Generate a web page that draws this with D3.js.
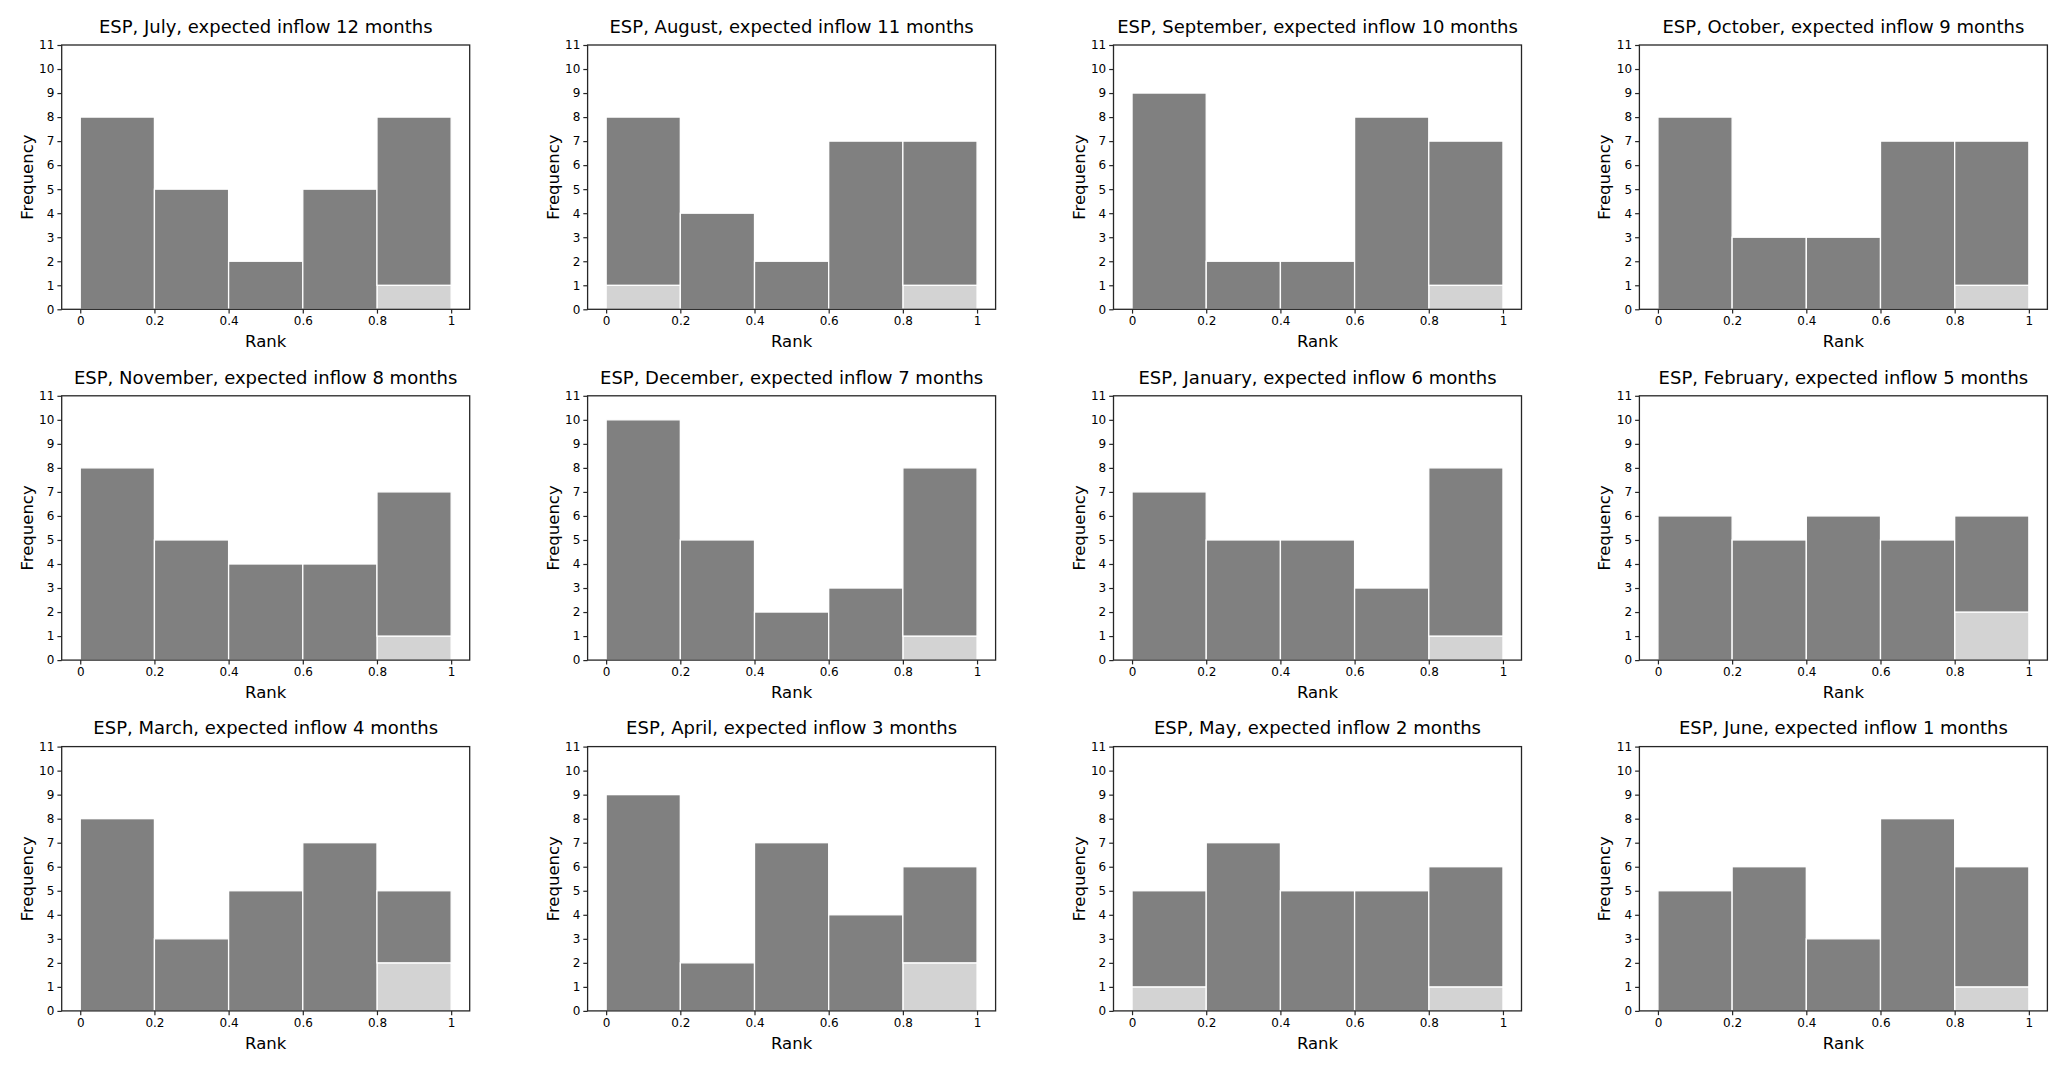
<!DOCTYPE html>
<html>
<head>
<meta charset="utf-8">
<script src="https://cdn.jsdelivr.net/npm/d3@7"></script>
<style>
    body { margin: 0; background: #fff; }
    text { font-family: "DejaVu Sans", sans-serif; fill: #000; }
</style>
</head>
<body>
<div id="chart"></div>
<script>
// Panel data, one entry per panel
const country = "ESP";
const months = ["July", "August", "September", "October", "November", "December",
    "January", "February", "March", "April", "May", "June"];
const inflowMonths = [12, 11, 10, 9, 8, 7, 6, 5, 4, 3, 2, 1];

// Histogram bins on rank
const binEdges = [0, 0.2, 0.4, 0.6, 0.8, 1];

// Stacked counts: light segment (bottom) and dark segment (on top)
const lightCounts = [
    [0, 0, 0, 0, 1], [1, 0, 0, 0, 1], [0, 0, 0, 0, 1], [0, 0, 0, 0, 1],
    [0, 0, 0, 0, 1], [0, 0, 0, 0, 1], [0, 0, 0, 0, 1], [0, 0, 0, 0, 2],
    [0, 0, 0, 0, 2], [0, 0, 0, 0, 2], [1, 0, 0, 0, 1], [0, 0, 0, 0, 1]
];
const darkCounts = [
    [8, 5, 2, 5, 7], [7, 4, 2, 7, 6], [9, 2, 2, 8, 6], [8, 3, 3, 7, 6],
    [8, 5, 4, 4, 6], [10, 5, 2, 3, 7], [7, 5, 5, 3, 7], [6, 5, 6, 5, 4],
    [8, 3, 5, 7, 3], [9, 2, 7, 4, 4], [4, 7, 5, 5, 5], [5, 6, 3, 8, 5]
];

const xTicks = [0, 0.2, 0.4, 0.6, 0.8, 1];
const xTickLabels = ["0", "0.2", "0.4", "0.6", "0.8", "1"];
const yTicks = [0, 1, 2, 3, 4, 5, 6, 7, 8, 9, 10, 11];

// Layout
const WIDTH = 2067, HEIGHT = 1068;
const N_COLS = 4;
const LEFT0 = 61.7, COL_STEP = 525.9;
const TOP0 = 45, ROW_STEP = 350.8;
const PLOT_W = 408, PLOT_H = 264.3;

const LIGHT = "#d3d3d3";
const DARK = "#808080";
const SPINE = "#262626";

const svg = d3.select("#chart")
    .append("svg")
    .attr("width", WIDTH)
    .attr("height", HEIGHT);

const x = d3.scaleLinear().domain([-0.05, 1.05]).range([0, PLOT_W]);
const y = d3.scaleLinear().domain([0, 11]).range([PLOT_H, 0]);

const stack = d3.stack().keys(["light", "dark"]);

months.forEach((month, i) => {
    const col = i % N_COLS;
    const row = Math.floor(i / N_COLS);
    const g = svg.append("g")
        .attr("transform", `translate(${LEFT0 + col * COL_STEP},${TOP0 + row * ROW_STEP})`);

    // Bins with both stacked series
    const bins = binEdges.slice(0, -1).map((x0, b) => ({
        x0: x0,
        x1: binEdges[b + 1],
        light: lightCounts[i][b],
        dark: darkCounts[i][b]
    }));
    const layers = stack(bins);

    g.selectAll("g.layer")
        .data(layers)
        .enter()
        .append("g")
        .attr("class", "layer")
        .attr("fill", d => d.key === "light" ? LIGHT : DARK)
        .selectAll("rect")
        .data(d => d.filter(s => s[1] > s[0]))
        .enter()
        .append("rect")
        .attr("x", d => x(d.data.x0))
        .attr("width", d => x(d.data.x1) - x(d.data.x0))
        .attr("y", d => y(d[1]))
        .attr("height", d => y(d[0]) - y(d[1]))
        .attr("stroke", "#fff")
        .attr("stroke-width", 1.3);

    // Axes
    const xAxis = g.append("g")
        .attr("transform", `translate(0,${PLOT_H})`)
        .call(d3.axisBottom(x)
            .tickValues(xTicks)
            .tickFormat((d, k) => xTickLabels[k])
            .tickSize(4.3)
            .tickPadding(3)
            .tickSizeOuter(0));

    const yAxis = g.append("g")
        .call(d3.axisLeft(y)
            .tickValues(yTicks)
            .tickSize(4.3)
            .tickPadding(3)
            .tickSizeOuter(0));

    [xAxis, yAxis].forEach(a => {
        a.select(".domain").remove();
        a.selectAll(".tick line").attr("stroke", SPINE).attr("stroke-width", 1.2);
        a.selectAll(".tick text")
            .style("font-family", "DejaVu Sans")
            .style("font-size", "12px")
            .attr("fill", "#000");
    });

    // Spines (full box)
    g.append("rect")
        .attr("width", PLOT_W)
        .attr("height", PLOT_H)
        .attr("fill", "none")
        .attr("stroke", SPINE)
        .attr("stroke-width", 1.3);

    // Title
    g.append("text")
        .attr("x", PLOT_W / 2)
        .attr("y", -12.3)
        .attr("text-anchor", "middle")
        .style("font-size", "18px")
        .text(`${country}, ${month}, expected inflow ${inflowMonths[i]} months`);

    // Axis labels
    g.append("text")
        .attr("x", PLOT_W / 2)
        .attr("y", PLOT_H + 38)
        .attr("text-anchor", "middle")
        .style("font-size", "16.5px")
        .text("Rank");

    g.append("text")
        .attr("transform", "rotate(-90)")
        .attr("x", -PLOT_H / 2)
        .attr("y", -29)
        .attr("text-anchor", "middle")
        .style("font-size", "16.5px")
        .text("Frequency");
});
</script>
</body>
</html>
